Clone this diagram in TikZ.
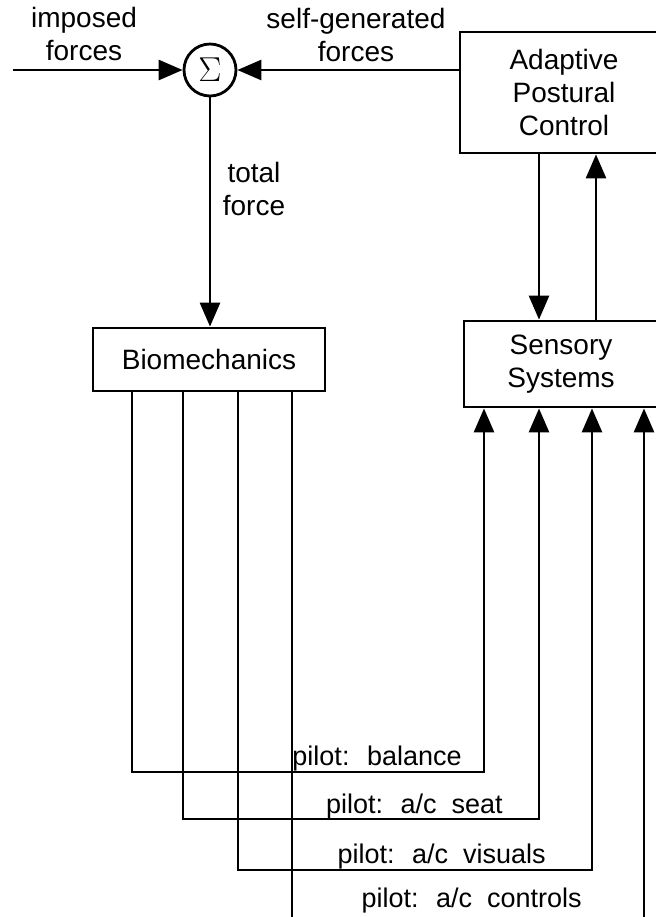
\documentclass[tikz,border=0pt]{standalone}
\usepackage{fontspec}
\setmainfont{Liberation Sans}
\usetikzlibrary{arrows.meta}

\begin{document}
\begin{tikzpicture}[x=0.5pt, y=-0.5pt, line width=1.4pt,
    >={Triangle[length=12pt,width=10pt]},
    txt/.style={font=\fontsize{14}{16.5}\selectfont, align=center, inner sep=0pt},
    pilot/.style={txt, font=\fontsize{13.5}{16}\selectfont, anchor=base east},
    block/.style={txt, draw, line width=1.4pt},
    sum/.style={draw, circle, minimum size=26pt, inner sep=0pt, font=\fontsize{18}{18}\selectfont}]
    \useasboundingbox (0,0) rectangle (656,917);
    \clip (0,0) rectangle (656,917);

    \node[sum] (sum) at (210,70) {$\Sigma$};
    \node[block, minimum width=104pt, minimum height=60.5pt] (apc) at (564,92.5) {Adaptive\\Postural\\Control};
    \node[block, minimum width=116pt, minimum height=31.5pt] (bio) at (209,359.5) {Biomechanics};
    \node[block, minimum width=97pt, minimum height=43pt] (sen) at (561,364) {Sensory\\Systems};

    \node[txt, anchor=base] (imp) at (84,60) {imposed\\forces};
    \node[txt, anchor=base] (self) at (356,61) {self-generated\\forces};
    \node[txt, anchor=base] (tot) at (254,215) {total\\force};

    \coordinate (in) at (13,70);
    \coordinate (out) at (292,930);
    \coordinate (ctl) at (644,930);

    \draw[->] (in) -- (sum);
    \draw[->] (apc.west |- sum) -- (sum);
    \draw[->] (sum) -- (sum |- bio.north);
    \draw[->] (apc.south -| 539,0) -- (sen.north -| 539,0);
    \draw[->] (sen.north -| 596,0) -- (apc.south -| 596,0);

    \foreach \bx/\sx/\hy in {132/484/772, 183/539/819, 238/592/870}
        \draw[->] (bio.south -| \bx,0) -- (\bx,\hy) -| (sen.south -| \sx,0);
    \draw (bio.south -| out) -- (out);
    \draw[->] (ctl) -- (sen.south -| ctl);

    \node[pilot] (bal) at (463,765) {pilot:~ balance};
    \node[pilot] (seat) at (504,813) {pilot:~ a/c~ seat};
    \node[pilot] (vis) at (547,863) {pilot:~ a/c~ visuals};
    \node[pilot] (con) at (583,907) {pilot:~ a/c~ controls};
\end{tikzpicture}
\end{document}
